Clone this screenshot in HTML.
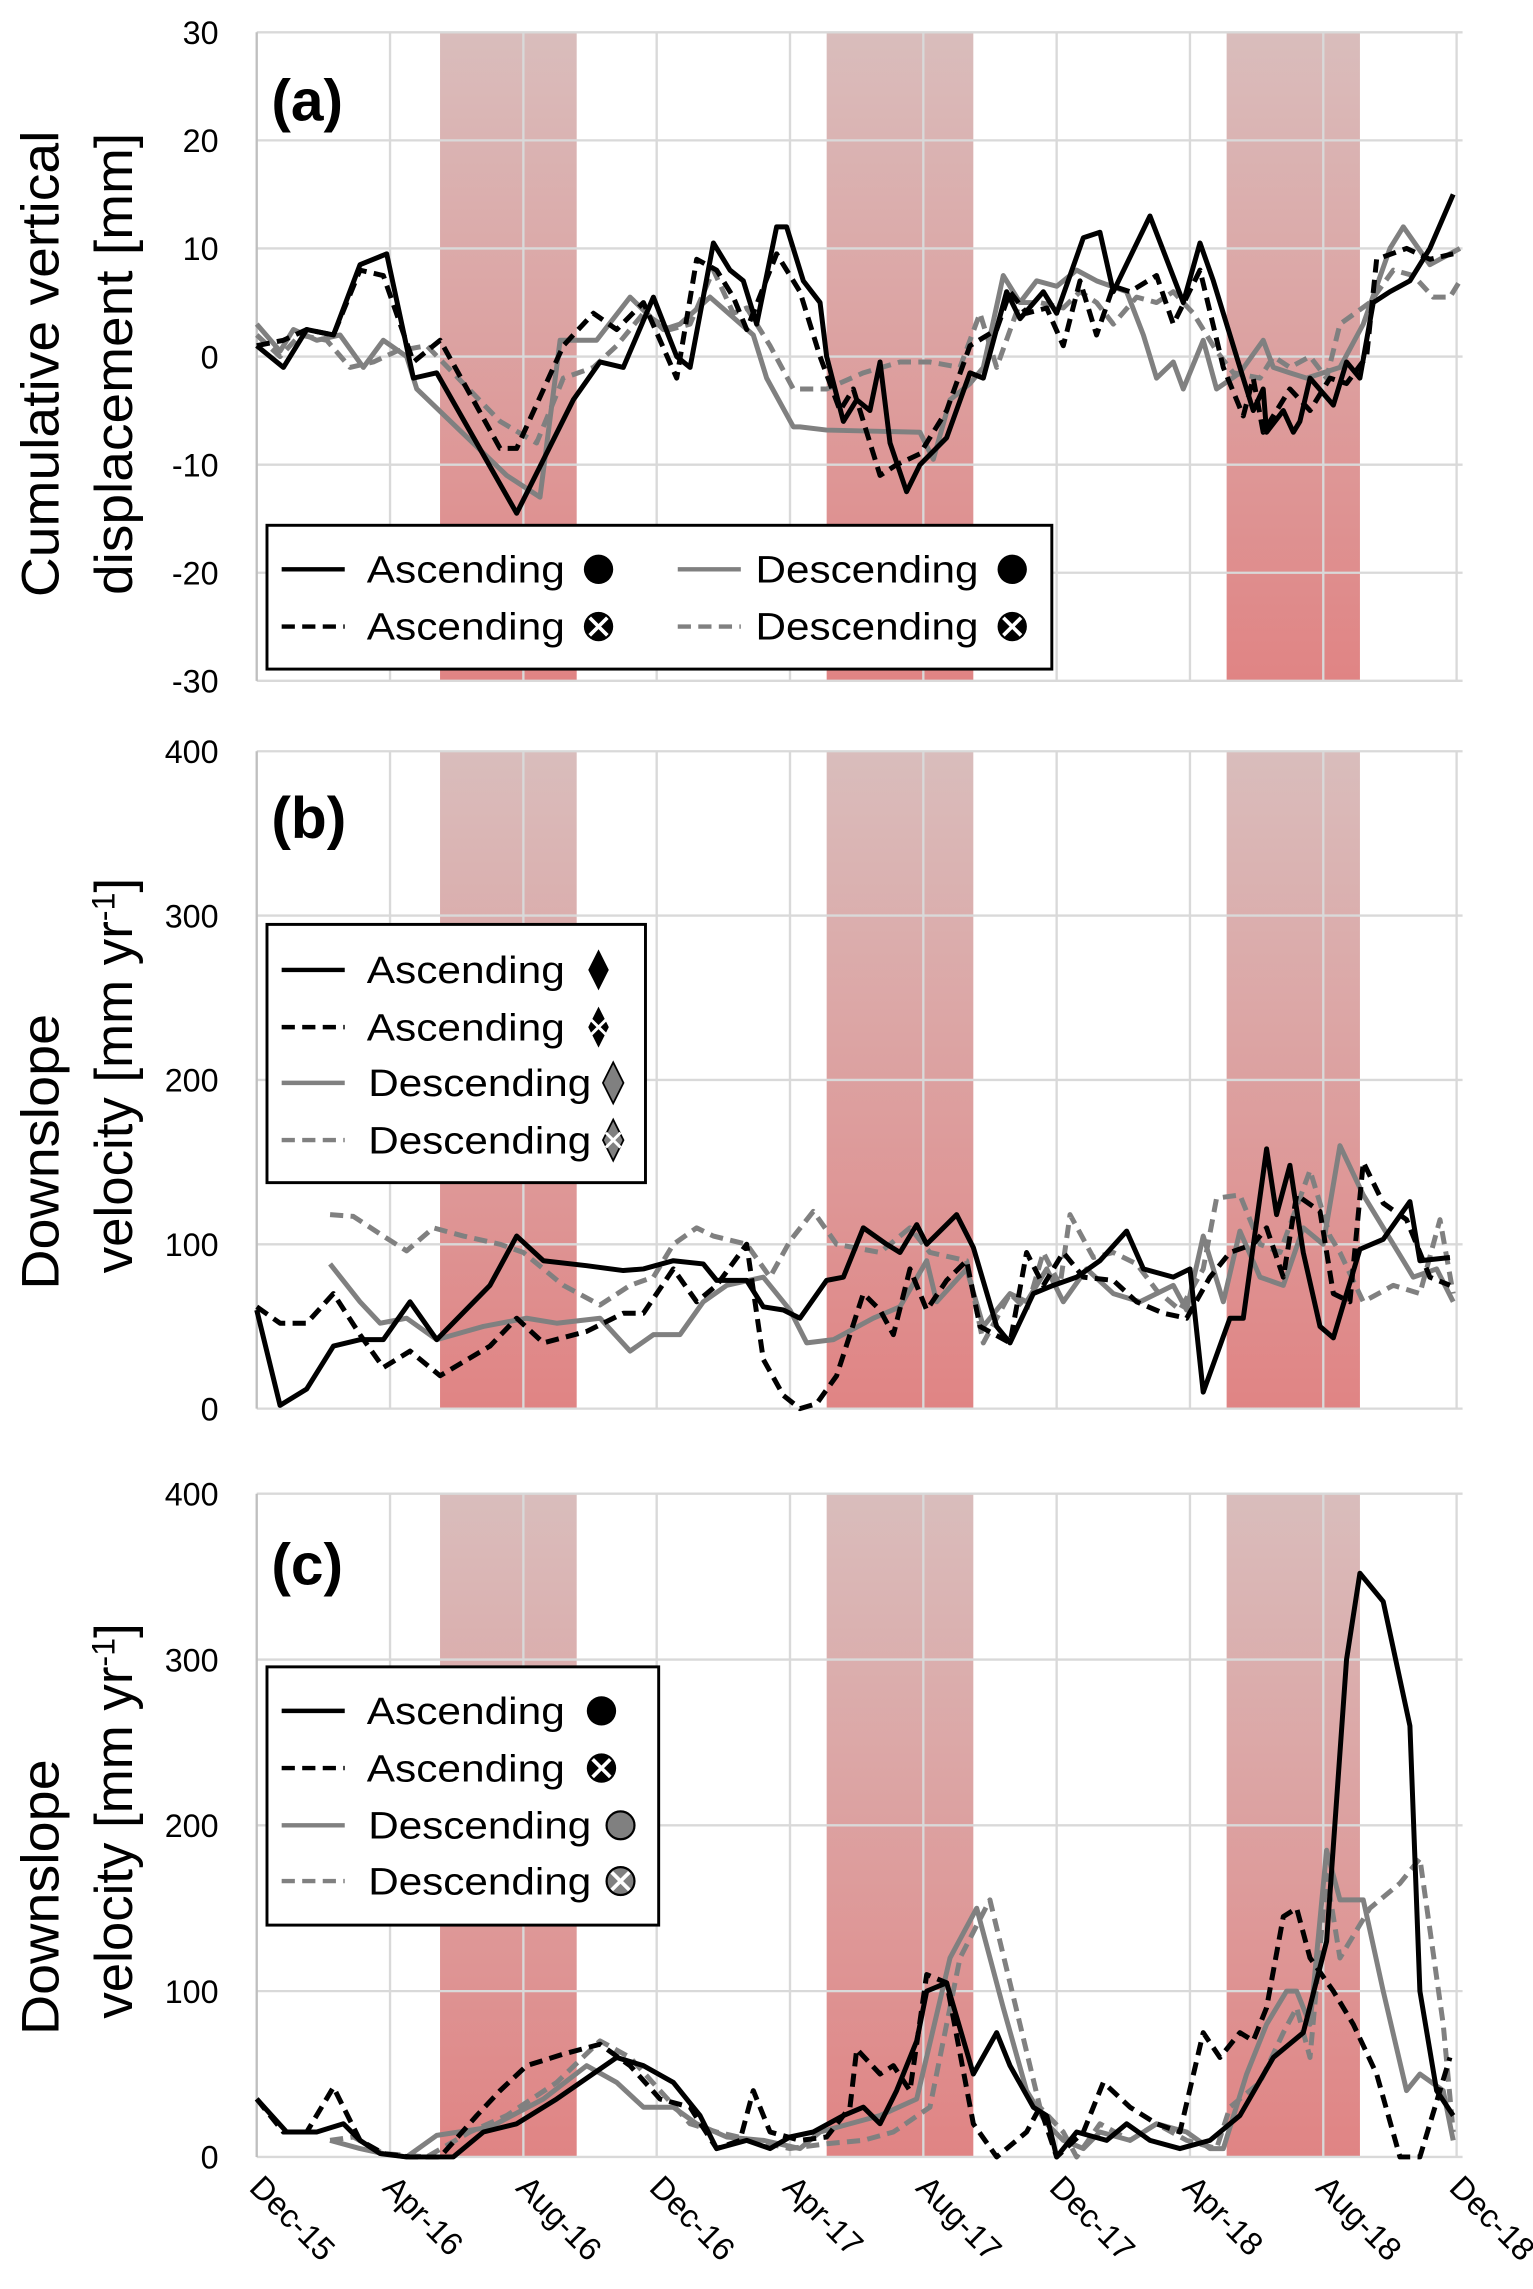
<!DOCTYPE html>
<html><head><meta charset="utf-8"><style>
html,body{margin:0;padding:0;background:#fff}
svg{display:block}
text{font-family:"Liberation Sans",sans-serif}
</style></head><body>
<svg id="chart" xmlns="http://www.w3.org/2000/svg" width="1533" height="2289" viewBox="0 0 1045 1560" preserveAspectRatio="none">
<defs>
<linearGradient id="bandGrad" x1="0" y1="0" x2="0" y2="1">
<stop offset="0" stop-color="#d9bdbc"/><stop offset="1" stop-color="#e08484"/>
</linearGradient>
</defs>
<g id="layer"></g>
</svg>
<script>
const NS='http://www.w3.org/2000/svg';
// ---- data ----
const xTickLabels=['Dec-15','Apr-16','Aug-16','Dec-16','Apr-17','Aug-17','Dec-17','Apr-18','Aug-18','Dec-18'];
const bandsMonths=[[5.5,9.6],[17.1,21.5],[29.1,33.1]];
const ticksA=[30,20,10,0,-10,-20,-30];
const ticksBC=[400,300,200,100,0];

const aAscSolidT=[0,0.8,1.5,2.3,3.1,3.9,4.7,5.4,7.8,9.5,10.3,11,11.9,12.6,13,13.7,14.2,14.6,15,15.6,15.9,16.4,16.9,17.1,17.6,18,18.4,18.7,19,19.5,19.9,20.7,21.4,21.8,22.5,22.9,23.6,24,24.4,24.8,25.3,25.7,26.8,27.8,28.3,28.7,29.5,29.9,30.2,30.3,30.8,31.1,31.3,31.6,32.3,32.7,33.1,33.5,34,34.6,35.2,35.9];
const aAscSolidV=[1,-1,2.5,2,8.5,9.5,-2,-1.5,-14.5,-4,-0.5,-1,5.5,0,-1,10.5,8,7,3,12,12,7,5,0,-6,-4,-5,-0.5,-8,-12.5,-10,-7.5,-1.5,-2,6,3.5,6,4,7.5,11,11.5,6,13,5,10.5,7,-1,-5,-3,-7,-5,-7,-6,-2,-4.5,-0.5,-2,5,6,7,10,15];
const aAscDashT=[0,0.8,1.5,2.3,3.1,3.8,4.7,5.5,7.3,7.8,9.2,10.1,10.8,11.6,12.6,13.2,13.8,14.3,14.7,15.6,16.3,16.9,17.5,17.9,18.7,19.2,19.9,20.7,21.4,22.2,22.6,23.1,23.7,24.2,24.7,25.2,25.7,26.2,27,27.5,28.3,29,29.6,29.9,30.2,31,31.6,32.2,32.7,33.3,33.6,34.5,35.2,35.9];
const aAscDashV=[1,1.5,2.5,2,8,7.5,-0.5,1.5,-8.5,-8.5,1,4,2.5,5,-2,9,8,5.5,2.5,9.5,6,0,-5,-3,-11,-10,-9,-5,1,2.5,6,4,4.5,1,7,2,6.5,6,7.5,3,8,-1,-5.5,-2,-7,-3,-5,-2,-2.5,0,9,10,9,9.5];
const aDescSolidT=[0,0.7,1.1,1.8,2.5,3.2,3.8,4.5,4.8,7.5,8.5,9.1,10.2,11.2,12.2,12.7,13.6,14.9,15.3,16.1,16.3,17.1,19.9,20.3,20.8,21.4,21.8,22.4,22.9,23.4,24,24.6,25.2,26.1,26.6,27,27.5,27.8,28.4,28.8,29.5,30.2,30.5,31,31.5,32.5,33.2,34,34.4,35.2,36.1];
const aDescSolidV=[3,0.5,2.5,1.5,2,-1,1.5,0,-3,-11,-13,1.5,1.5,5.5,2.5,3,5.5,2,-2,-6.5,-6.5,-6.8,-7,-9.5,-4,-2.5,-1,7.5,5,7,6.5,8,7,6,2,-2,-0.5,-3,1.5,-3,-1.5,1.5,-1,-1.5,-2,-1,3,10,12,8.5,10];
const aDescDashT=[0,0.7,1.3,2.1,2.8,3.5,4.2,5.1,7.3,8.4,9.2,10.1,10.8,11.6,12.4,13,13.7,14.3,14.7,15.4,16.1,16.7,17.1,18.2,19.3,20.2,21.1,21.7,22.2,22.9,23.5,24.2,24.7,25.2,25.7,26.4,27,27.5,28.1,28.8,29.3,30.1,30.5,31,31.6,32.1,32.5,33.4,34.1,34.7,35.3,35.8,36.1];
const aDescDashV=[2,0,2,1.5,-1,-0.5,0.5,1,-6,-8,-2,-1,1,4,2.5,3,8,4,4.5,1,-3,-3,-3,-1.5,-0.5,-0.5,-1,4,-1,5,5,4.5,6,5,3,5.5,5,6,4,0.5,-1.5,-2,0,-1,0,-2,3,5,8,7.5,5.5,5.5,7];

const bAscSolidT=[0,0.7,1.5,2.3,3.1,3.8,4.6,5.4,7,7.8,8.6,9.9,11,11.6,12.5,13.4,13.8,14.7,15.2,15.8,16.3,17.1,17.6,18.2,18.9,19.3,19.8,20.1,20.6,21,21.5,22.2,22.6,23.3,23.9,24.6,25.3,26.1,26.6,27.5,28,28.4,29.2,29.6,30.3,30.6,31,31.4,31.9,32.3,33.1,33.8,34.6,34.9,35.8];
const bAscSolidV=[60,2,12,38,42,42,65,42,75,105,90,87,84,85,90,88,78,78,62,60,55,78,80,110,100,95,112,100,110,118,98,50,40,70,75,80,90,108,85,80,85,10,55,55,158,118,148,95,50,43,97,103,126,90,92];
const bAscDashT=[0,0.7,1.5,2.3,3.1,3.8,4.6,5.5,7,7.8,8.6,9.9,11,11.6,12.5,13.2,13.8,14.7,15.2,15.8,16.3,16.8,17.4,18.2,18.7,19.1,19.6,20.1,20.7,21.3,21.7,22.6,23.1,23.6,24.2,24.8,25.7,26.4,27.2,27.9,28.6,29.2,29.9,30.3,30.8,31.2,31.9,32.3,32.8,33.2,33.8,34.5,35.2,35.8];
const bAscDashV=[62,52,52,70,45,25,35,20,38,55,40,47,58,58,85,65,75,100,30,8,0,3,20,70,60,45,85,60,78,90,50,40,95,75,95,80,78,65,58,55,80,95,100,110,80,130,120,70,65,150,125,115,80,75];
const bDescSolidT=[2.2,3.1,3.7,4.5,5.4,6.8,8.1,9,10.3,11.2,11.9,12.7,13.4,14.1,15.2,16,16.5,17.3,18.5,19.3,20.1,20.4,21.3,21.8,22.6,23.1,23.7,24.2,24.9,25.7,26.5,27.5,27.9,28.4,29,29.5,30.1,30.8,31.4,32,32.5,33.2,34.1,34.7,35.4,35.9];
const bDescSolidV=[88,65,52,55,42,50,55,52,55,35,45,45,65,75,80,60,40,42,55,62,90,65,85,50,70,65,85,65,85,70,65,75,60,105,65,108,80,75,110,100,160,130,100,80,85,65];
const bDescDashT=[2.2,2.9,3.8,4.5,5.3,6.2,7.3,8,9.2,10.3,11.2,11.9,12.5,13.2,13.7,14.7,15.4,16,16.7,17.4,18.7,19.6,20.2,21.3,21.8,22.6,23.1,23.6,24.1,24.4,25.1,25.7,26.4,27,27.7,28.4,28.8,29.5,30.1,30.7,31.6,32.2,32.5,33.2,34.1,34.9,35.5,35.9];
const bDescDashV=[118,117,105,96,110,105,100,95,75,63,75,80,100,110,105,100,80,102,120,100,95,110,95,90,40,70,60,95,75,118,92,95,88,72,60,85,128,130,100,95,145,105,95,65,75,70,115,70];

const cAscSolidT=[0,0.9,1.8,2.6,3.1,3.7,4.5,5.9,6.8,7.8,9,10.8,11.6,12.5,13.3,13.8,14.7,15.4,16,16.7,17.6,18.2,18.7,19.2,19.8,20.1,20.7,21.5,22.2,22.6,23.3,23.7,24,24.6,25.5,26.1,26.8,27.7,28.6,29.5,30.5,31.4,32.1,32.7,33.1,33.8,34.6,34.9,35.4,35.9];
const cAscSolidV=[35,15,15,20,10,2,0,0,15,20,35,60,55,45,25,5,10,5,12,15,25,30,20,40,70,100,105,50,75,55,30,25,0,15,10,20,10,5,10,25,60,75,130,300,352,335,260,100,40,25];
const cAscDashT=[0,0.8,1.5,2.3,3.1,3.8,4.6,5.5,6.6,7.3,8.1,9.2,10.3,11.2,12.1,13,13.8,14.5,14.9,15.4,16.3,17.1,17.8,18,18.7,19.1,19.6,20.1,20.7,21.5,22.2,23.1,23.5,24,24.8,25.4,26.2,27,27.7,28.4,28.9,29.5,29.9,30.3,30.8,31.2,31.6,32.3,32.9,33.6,34.3,34.9,35.8];
const cAscDashV=[35,15,15,42,10,2,0,0,25,40,55,62,68,55,35,30,5,10,40,15,10,12,30,65,50,55,40,110,105,20,0,15,30,0,15,45,30,20,15,75,60,75,70,90,145,150,120,100,80,50,0,0,60];
const cDescSolidT=[2.2,3.1,3.8,4.5,5.4,7,8.6,9.9,10.8,11.6,12.5,13.2,14.1,15.2,16.3,16.9,17.8,18.7,19.8,20.8,21.6,22.4,23.1,23.7,24.2,24.8,25.3,26.2,27,27.9,28.6,29,29.7,30.3,30.9,31.2,31.6,32.1,32.5,33.2,33.8,34.5,34.9,35.6,35.9];
const cDescSolidV=[10,5,2,0,13,18,35,55,45,30,30,20,12,10,5,15,20,25,35,120,150,90,40,20,10,5,15,10,20,15,5,5,50,80,100,100,80,185,155,155,100,40,50,40,10];
const cDescDashT=[2.2,2.9,3.8,5.1,6.4,7.5,9,10.3,11.2,12.1,13,13.8,14.9,16,17.1,18.2,19.1,20.2,21.1,22,22.9,23.5,24.2,24.6,25.3,26.2,27,27.9,28.8,29.2,30.1,30.8,31.2,31.6,32.1,32.5,33.4,34.3,34.9,35.6,35.9];
const cDescDashV=[10,12,2,0,15,25,45,70,60,40,20,15,10,5,8,10,15,30,120,155,80,30,15,0,20,10,20,10,5,30,45,75,90,60,170,120,150,165,180,80,15];

// ---- scales ----
const X0=175, XR=997, PX_PER_MONTH=22.72;
function xS(m){return X0+m*PX_PER_MONTH;}
const panels=[
 {id:'a',top:22,bot:464,min:-30,max:30,ticks:ticksA},
 {id:'b',top:512,bot:960,min:0,max:400,ticks:ticksBC},
 {id:'c',top:1018,bot:1470,min:0,max:400,ticks:ticksBC}
];
function yS(p,v){return p.bot-(v-p.min)/(p.max-p.min)*(p.bot-p.top);}

const layer=document.getElementById('layer');
function mk(tag,attrs,parent){const e=document.createElementNS(NS,tag);for(const k in attrs)e.setAttribute(k,attrs[k]);(parent||layer).appendChild(e);return e;}

const styles={
 ascSolid:{stroke:'#000',dash:null},
 ascDash:{stroke:'#000',dash:'9,5'},
 descSolid:{stroke:'#808080',dash:null},
 descDash:{stroke:'#808080',dash:'9,5'}
};
const seriesByPanel={
 a:[['descDash',aDescDashT,aDescDashV],['descSolid',aDescSolidT,aDescSolidV],['ascDash',aAscDashT,aAscDashV],['ascSolid',aAscSolidT,aAscSolidV]],
 b:[['descDash',bDescDashT,bDescDashV],['descSolid',bDescSolidT,bDescSolidV],['ascDash',bAscDashT,bAscDashV],['ascSolid',bAscSolidT,bAscSolidV]],
 c:[['descDash',cDescDashT,cDescDashV],['descSolid',cDescSolidT,cDescSolidV],['ascDash',cAscDashT,cAscDashV],['ascSolid',cAscSolidT,cAscSolidV]]
};

panels.forEach(p=>{
 const g=mk('g',{});
 
 
 bandsMonths.forEach((b,i)=>{
  const r=mk('rect',{x:xS(b[0]),y:p.top,width:xS(b[1])-xS(b[0]),height:p.bot-p.top,fill:'url(#bandGrad)'},g);
  
  
 });
 p.ticks.forEach(t=>{
  const y=yS(p,t);
  const l=mk('line',{x1:X0,x2:XR,y1:y,y2:y,stroke:'#d9d9d9','stroke-width':1.6},g);
  
  
  const tx=mk('text',{x:149,y:y+8,'text-anchor':'end','font-size':22,fill:'#000'},g);
  tx.textContent=t;
  
  
 });
 for(let k=1;k<xTickLabels.length;k++){
  const x=xS(k*4);
  const l=mk('line',{x1:x,x2:x,y1:p.top,y2:p.bot,stroke:'#d9d9d9','stroke-width':1.6},g);
  
  
 }
 const ax=mk('line',{x1:X0,x2:X0,y1:p.top,y2:p.bot,stroke:'#bfbfbf','stroke-width':1.6},g);
 
 
 seriesByPanel[p.id].forEach(s=>{
  const st=styles[s[0]],T=s[1],V=s[2],n=Math.min(T.length,V.length);
  let d='';
  for(let i=0;i<n;i++){d+=(i?'L':'M')+xS(T[i]).toFixed(1)+','+yS(p,V[i]).toFixed(1);}
  const a={d:d,fill:'none',stroke:st.stroke,'stroke-width':3.4,'stroke-linejoin':'round'};
  if(st.dash)a['stroke-dasharray']=st.dash;
  const path=mk('path',a,g);
  
  
 });
});

// x tick labels
xTickLabels.forEach((lab,k)=>{
 const x=xS(k*4)-6,y=1492;
 const t=mk('text',{x:x,y:y,'font-size':22,transform:'rotate(45 '+x+' '+y+')'});
 t.textContent=lab;
 
 
});
</script>
<svg style="position:absolute;left:0;top:0" width="1533" height="2289" viewBox="0 0 1045 1560" preserveAspectRatio="none" xmlns="http://www.w3.org/2000/svg">
<text x="185" y="82" font-size="40" font-weight="bold">(a)</text>
<text x="185" y="571" font-size="40" font-weight="bold">(b)</text>
<text x="185" y="1080" font-size="40" font-weight="bold">(c)</text>

<g font-size="36">
<text x="0" y="0" transform="translate(40 248) rotate(-90)" text-anchor="middle" textLength="318" lengthAdjust="spacingAndGlyphs">Cumulative vertical</text>
<text x="0" y="0" transform="translate(90 248) rotate(-90)" text-anchor="middle" textLength="315" lengthAdjust="spacingAndGlyphs">displacement [mm]</text>
</g>
<g font-size="36">
<text x="0" y="0" transform="translate(40 785) rotate(-90)" text-anchor="middle" textLength="188" lengthAdjust="spacingAndGlyphs">Downslope</text>
<text x="0" y="0" transform="translate(90 733) rotate(-90)" text-anchor="middle">velocity [mm yr<tspan dy="-12" font-size="22">-1</tspan><tspan dy="12">]</tspan></text>
</g>
<g font-size="36">
<text x="0" y="0" transform="translate(40 1293) rotate(-90)" text-anchor="middle" textLength="188" lengthAdjust="spacingAndGlyphs">Downslope</text>
<text x="0" y="0" transform="translate(90 1241) rotate(-90)" text-anchor="middle">velocity [mm yr<tspan dy="-12" font-size="22">-1</tspan><tspan dy="12">]</tspan></text>
</g>

<g font-size="26">
<rect x="182" y="358" width="535" height="98" fill="#fff" stroke="#000" stroke-width="2"/>
<line x1="192" y1="388" x2="235" y2="388" stroke="#000" stroke-width="3"/>
<text x="250" y="397" textLength="135" lengthAdjust="spacingAndGlyphs">Ascending</text>
<circle cx="408" cy="388" r="10" fill="#000"/>
<line x1="192" y1="427" x2="235" y2="427" stroke="#000" stroke-width="3" stroke-dasharray="9,5"/>
<text x="250" y="436" textLength="135" lengthAdjust="spacingAndGlyphs">Ascending</text>
<circle cx="408" cy="427" r="10" fill="#000"/><path d="M402 421L414 433M414 421L402 433" stroke="#fff" stroke-width="2.5"/>
<line x1="462" y1="388" x2="505" y2="388" stroke="#808080" stroke-width="3"/>
<text x="515" y="397" textLength="152" lengthAdjust="spacingAndGlyphs">Descending</text>
<circle cx="690" cy="388" r="10" fill="#000"/>
<line x1="462" y1="427" x2="505" y2="427" stroke="#808080" stroke-width="3" stroke-dasharray="9,5"/>
<text x="515" y="436" textLength="152" lengthAdjust="spacingAndGlyphs">Descending</text>
<circle cx="690" cy="427" r="10" fill="#000"/><path d="M684 421L696 433M696 421L684 433" stroke="#fff" stroke-width="2.5"/>
</g>

<g font-size="26">
<rect x="182" y="630" width="258" height="176" fill="#fff" stroke="#000" stroke-width="2"/>
<line x1="192" y1="661" x2="235" y2="661" stroke="#000" stroke-width="3"/>
<text x="250" y="670" textLength="135" lengthAdjust="spacingAndGlyphs">Ascending</text>
<polygon points="408,647 415,661 408,675 401,661" fill="#000"/>
<line x1="192" y1="700" x2="235" y2="700" stroke="#000" stroke-width="3" stroke-dasharray="9,5"/>
<text x="250" y="709" textLength="135" lengthAdjust="spacingAndGlyphs">Ascending</text>
<polygon points="408,686 415,700 408,714 401,700" fill="#000"/><path d="M403 695L413 705M413 695L403 705" stroke="#fff" stroke-width="2"/>
<line x1="192" y1="738" x2="235" y2="738" stroke="#808080" stroke-width="3"/>
<text x="251" y="747" textLength="152" lengthAdjust="spacingAndGlyphs">Descending</text>
<polygon points="418,724 425,738 418,752 411,738" fill="#808080" stroke="#000" stroke-width="1.2"/>
<line x1="192" y1="777" x2="235" y2="777" stroke="#808080" stroke-width="3" stroke-dasharray="9,5"/>
<text x="251" y="786" textLength="152" lengthAdjust="spacingAndGlyphs">Descending</text>
<polygon points="418,763 425,777 418,791 411,777" fill="#808080" stroke="#000" stroke-width="1.2"/><path d="M413 772L423 782M423 772L413 782" stroke="#fff" stroke-width="2"/>
</g>

<g font-size="26">
<rect x="182" y="1136" width="267" height="176" fill="#fff" stroke="#000" stroke-width="2"/>
<line x1="192" y1="1166" x2="235" y2="1166" stroke="#000" stroke-width="3"/>
<text x="250" y="1175" textLength="135" lengthAdjust="spacingAndGlyphs">Ascending</text>
<circle cx="410" cy="1166" r="10" fill="#000"/>
<line x1="192" y1="1205" x2="235" y2="1205" stroke="#000" stroke-width="3" stroke-dasharray="9,5"/>
<text x="250" y="1214" textLength="135" lengthAdjust="spacingAndGlyphs">Ascending</text>
<circle cx="410" cy="1205" r="10" fill="#000"/><path d="M404 1199L416 1211M416 1199L404 1211" stroke="#fff" stroke-width="2.5"/>
<line x1="192" y1="1244" x2="235" y2="1244" stroke="#808080" stroke-width="3"/>
<text x="251" y="1253" textLength="152" lengthAdjust="spacingAndGlyphs">Descending</text>
<circle cx="423" cy="1244" r="9.5" fill="#808080" stroke="#000" stroke-width="1.5"/>
<line x1="192" y1="1282" x2="235" y2="1282" stroke="#808080" stroke-width="3" stroke-dasharray="9,5"/>
<text x="251" y="1291" textLength="152" lengthAdjust="spacingAndGlyphs">Descending</text>
<circle cx="423" cy="1282" r="9.5" fill="#808080" stroke="#000" stroke-width="1.5"/><path d="M417 1276L429 1288M429 1276L417 1288" stroke="#fff" stroke-width="2.5"/>
</g>
</svg>
</body></html>
